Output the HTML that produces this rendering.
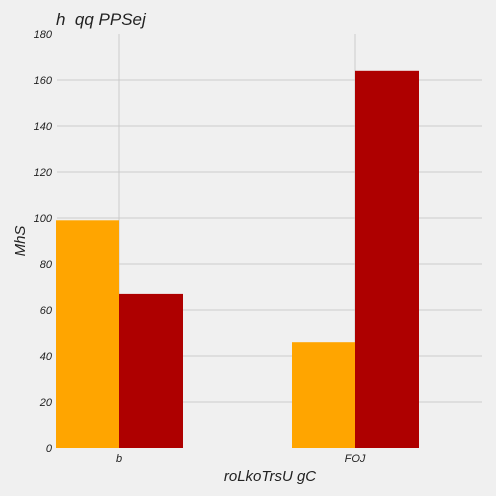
<!DOCTYPE html>
<html><head><meta charset="utf-8"><style>
body{margin:0;background:#f0f0f0;}
svg{display:block;font-family:"Liberation Sans",sans-serif;font-style:italic;}
</style></head><body>
<svg id="chart" width="496" height="496">
<rect width="496" height="496" fill="#f0f0f0"/>
<text x="56" y="25" font-size="17" fill="#222" style="white-space:pre">h  qq PPSej</text>
<text x="270" y="481" font-size="15" fill="#222" text-anchor="middle">roLkoTrsU gC</text>
<text transform="translate(25,241) rotate(-90)" font-size="15" fill="#222" text-anchor="middle">MhS</text>
<g id="grid"></g><g id="bars"></g><g id="labels"></g>
</svg>
<script>
const categories=["b","FOJ"];
const seriesOrange=[99,46];
const seriesRed=[67,164];
const yTicks=[0,20,40,60,80,100,120,140,160,180];
const ns="http://www.w3.org/2000/svg";
const plotLeft=57,plotRight=482,plotTop=34,plotBottom=448;
const yMax=180;
function yScale(v){return plotBottom-(v/yMax)*(plotBottom-plotTop);}
function xScale(i){return 119+i*236;}
const bw=63;
function mk(t,a,p){const e=document.createElementNS(ns,t);for(const k in a)e.setAttribute(k,a[k]);p.appendChild(e);return e;}
const g=document.getElementById('grid'),b=document.getElementById('bars'),l=document.getElementById('labels');
yTicks.forEach(t=>{
 if(t>0&&t<yMax){const ln=mk('line',{x1:plotLeft,x2:plotRight,y1:yScale(t),y2:yScale(t),stroke:'#cbcbcb','stroke-width':1},g);
 
 }
 const tx=mk('text',{x:52,y:yScale(t)+4,'font-size':11,fill:'#222','text-anchor':'end'},l);
 tx.textContent=t;
 
 
});
categories.forEach((c,i)=>{
 const ln=mk('line',{x1:xScale(i),x2:xScale(i),y1:plotTop,y2:plotBottom,stroke:'#cbcbcb','stroke-width':1},g);
 
 
 const r1=mk('rect',{x:xScale(i)-bw,y:yScale(seriesOrange[i]),width:bw,height:plotBottom-yScale(seriesOrange[i]),fill:'#ffa500'},b);
 
 
 const r2=mk('rect',{x:xScale(i),y:yScale(seriesRed[i]),width:bw+1,height:plotBottom-yScale(seriesRed[i]),fill:'#ae0000'},b);
 
 
 const tx=mk('text',{x:xScale(i),y:462,'font-size':11,fill:'#222','text-anchor':'middle'},l);
 tx.textContent=c;
 
 
});
</script>
</body></html>
